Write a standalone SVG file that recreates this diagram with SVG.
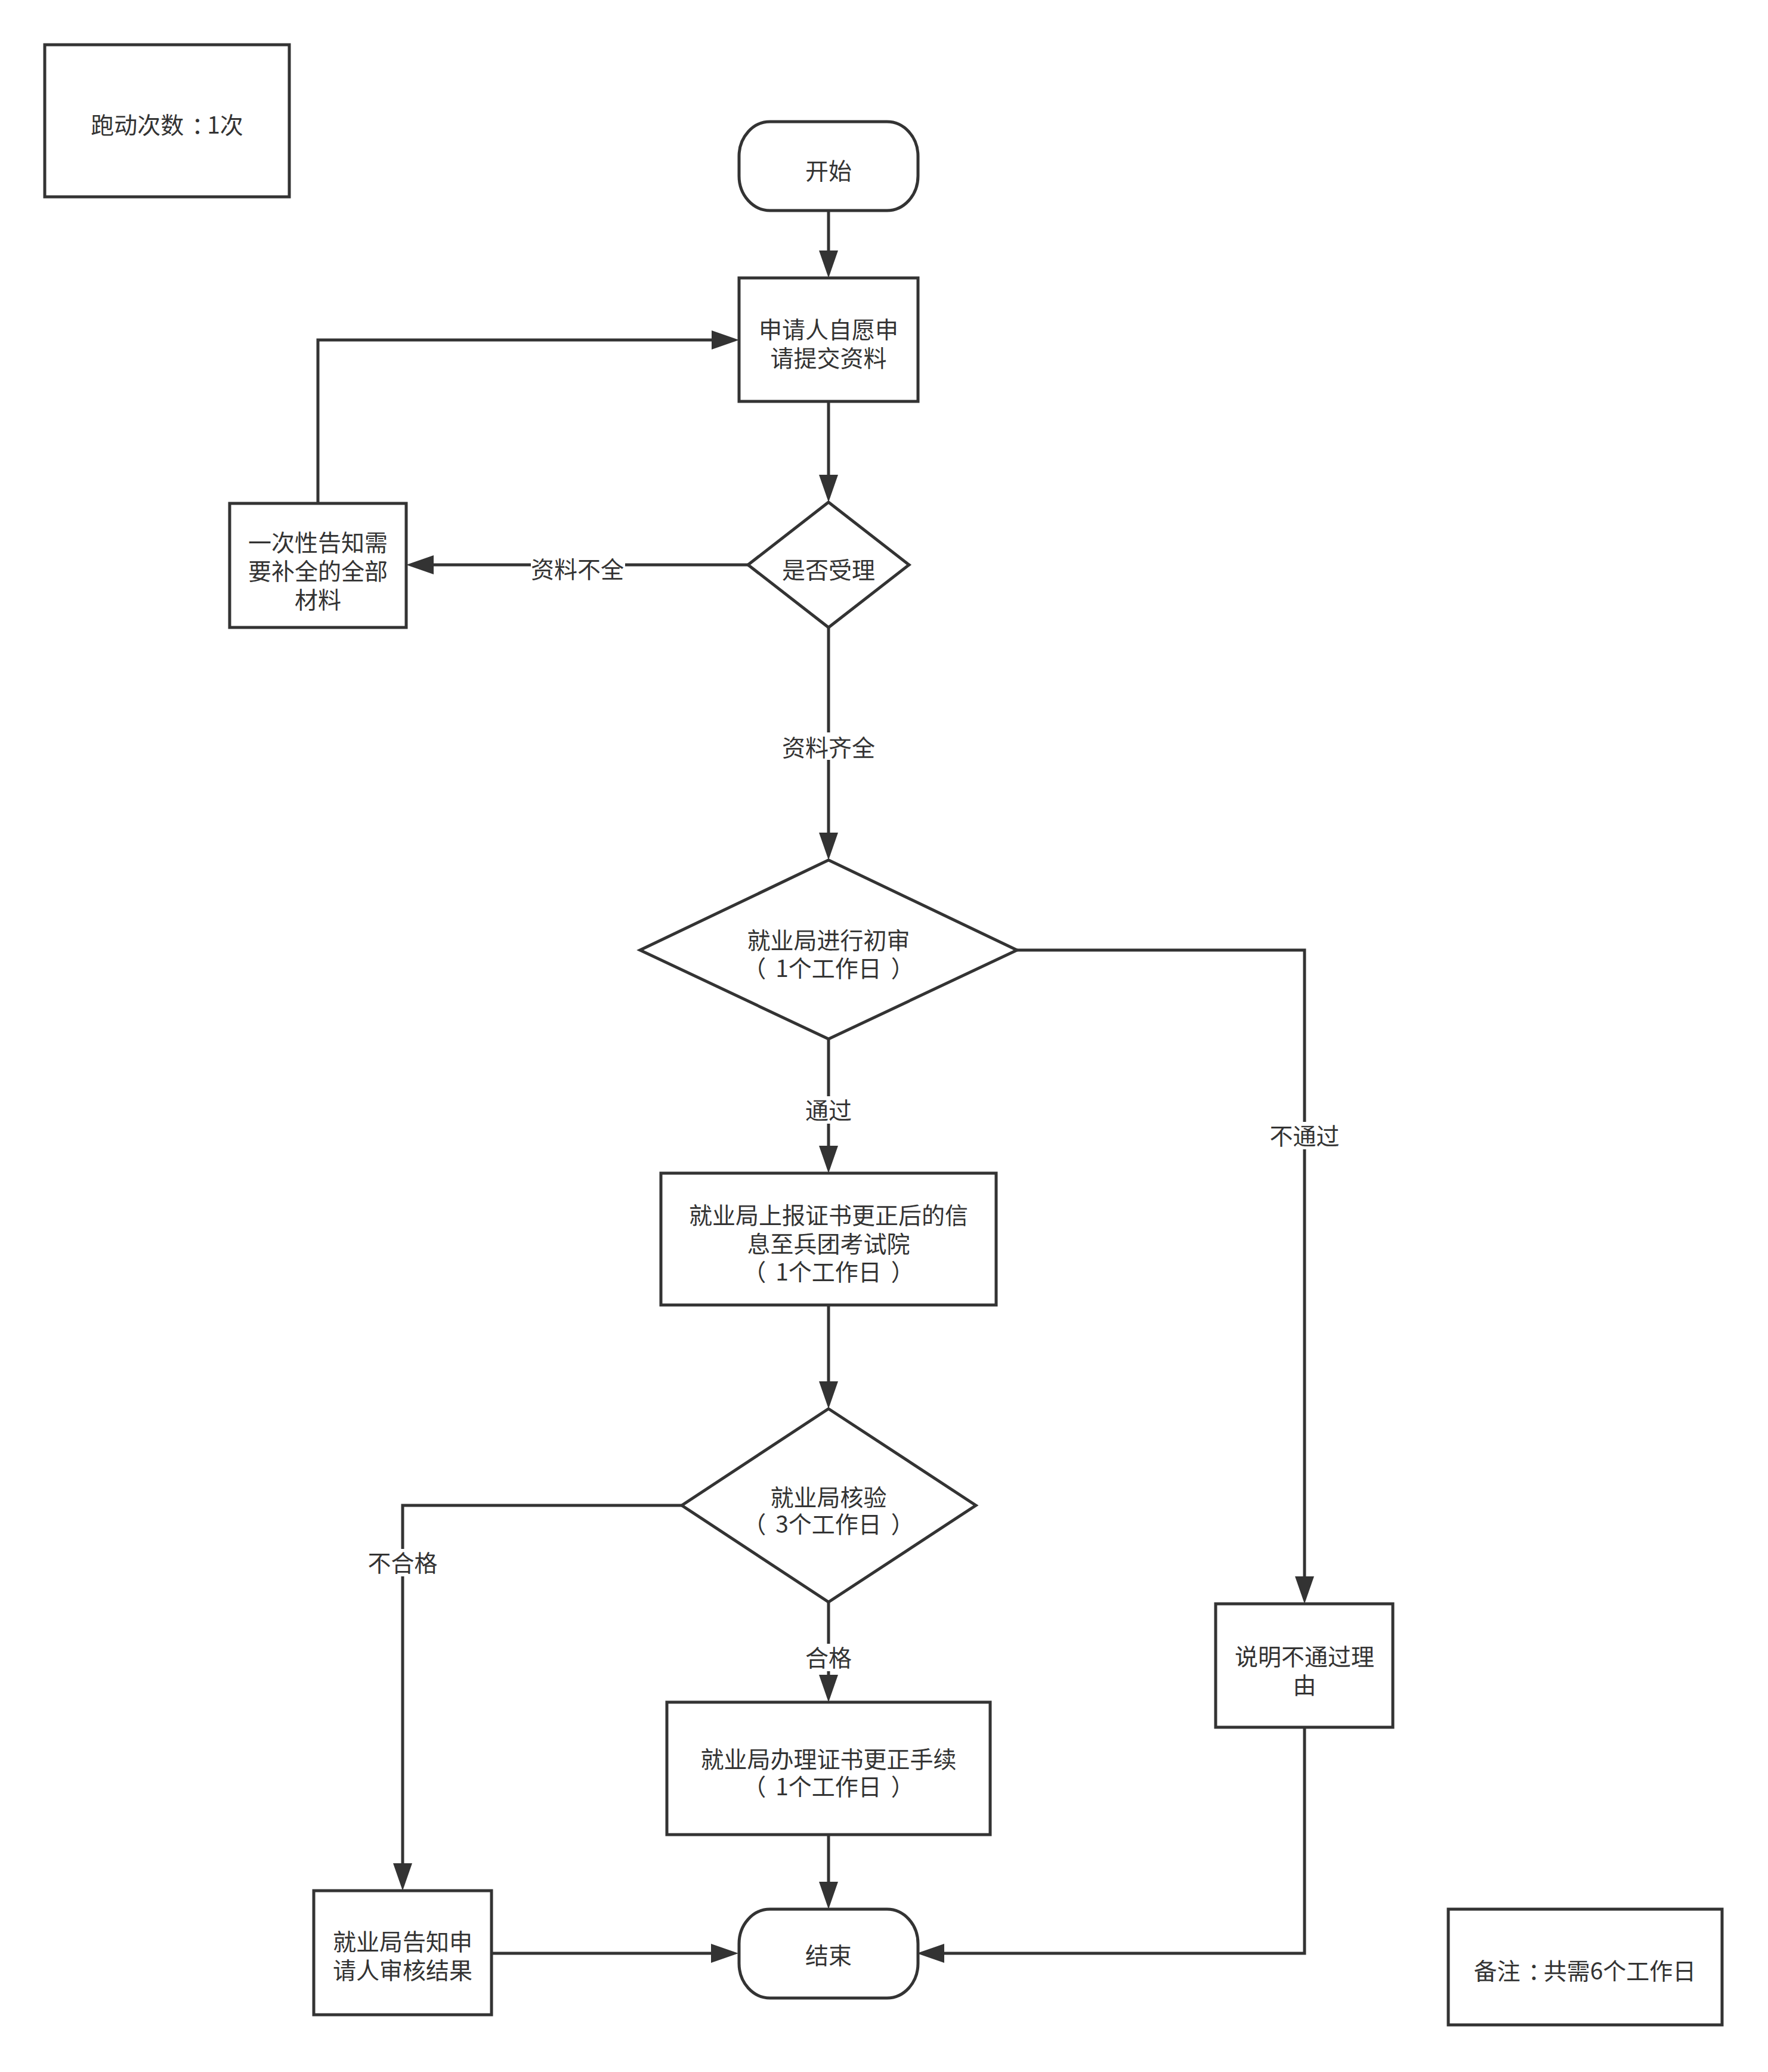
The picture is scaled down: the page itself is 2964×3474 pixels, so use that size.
<svg xmlns="http://www.w3.org/2000/svg" width="2964" height="3474" viewBox="0 0 2964 3474">
<style>
.n{fill:#fff;stroke:#333;stroke-width:5}
.t{font-family:"Noto Sans CJK SC","Noto Sans",sans-serif;font-size:39px;fill:#333;text-anchor:middle}
.c{fill:none;stroke:#333;stroke-width:5}
.bg{fill:#fff}
</style>
<defs>
<marker id="arr" viewBox="0 0 46 32" refX="38" refY="16" markerWidth="46" markerHeight="32" markerUnits="userSpaceOnUse" orient="auto">
<path d="M0,0 L46,16 L0,32 Z" fill="#333"/>
</marker>
</defs>
<rect width="2964" height="3474" fill="#fff"/>
<g id="connectors">
<path class="c" d="M1389,353 L1389,458" marker-end="url(#arr)"/>
<path class="c" d="M1389,673 L1389,834" marker-end="url(#arr)"/>
<path class="c" d="M1389,1052 L1389,1434" marker-end="url(#arr)"/>
<path class="c" d="M1389,1742 L1389,1959" marker-end="url(#arr)"/>
<path class="c" d="M1389,2188 L1389,2354" marker-end="url(#arr)"/>
<path class="c" d="M1389,2686 L1389,2846" marker-end="url(#arr)"/>
<path class="c" d="M1389,3076 L1389,3193" marker-end="url(#arr)"/>
<path class="c" d="M1254,947 L689,947" marker-end="url(#arr)"/>
<path class="c" d="M533,844 L533,570 L1231,570" marker-end="url(#arr)"/>
<path class="c" d="M1705,1593 L2187,1593 L2187,2681" marker-end="url(#arr)"/>
<path class="c" d="M1143,2524 L675,2524 L675,3162" marker-end="url(#arr)"/>
<path class="c" d="M824,3275 L1230,3275" marker-end="url(#arr)"/>
<path class="c" d="M2187,2896 L2187,3275 L1545,3275" marker-end="url(#arr)"/>
<rect class="bg" x="1311" y="1228" width="156" height="46"/>
<text class="t" x="1389" y="1268">资料齐全</text>
<rect class="bg" x="1350" y="1838" width="78" height="46"/>
<text class="t" x="1389" y="1876">通过</text>
<rect class="bg" x="1350" y="2756" width="78" height="46"/>
<text class="t" x="1389" y="2794">合格</text>
<rect class="bg" x="2128" y="1881" width="118" height="46"/>
<text class="t" x="2187" y="1919">不通过</text>
<rect class="bg" x="616" y="2597" width="118" height="46"/>
<text class="t" x="675" y="2635">不合格</text>
<rect class="bg" x="890" y="931" width="158" height="46"/>
<text class="t" x="968" y="969">资料不全</text>
</g>
<g id="note-trips">
<rect class="n" x="75" y="75" width="410" height="255"/>
<text class="t" x="280" y="224">跑动次数<tspan dx="13">：</tspan><tspan dx="-13">1次</tspan></text>
</g>
<g id="start">
<rect class="n" x="1239" y="204" width="300" height="149" rx="52" ry="58"/>
<text class="t" x="1389" y="301">开始</text>
</g>
<g id="apply">
<rect class="n" x="1239" y="466" width="300" height="207"/>
<text class="t" x="1389" y="567">申请人自愿申</text>
<text class="t" x="1389" y="615">请提交资料</text>
</g>
<g id="accept">
<polygon class="n" points="1389,842 1524,947 1389,1052 1254,947"/>
<text class="t" x="1389" y="970">是否受理</text>
</g>
<g id="notify-missing">
<rect class="n" x="385" y="844" width="296" height="208"/>
<text class="t" x="533" y="924">一次性告知需</text>
<text class="t" x="533" y="972">要补全的全部</text>
<text class="t" x="533" y="1020">材料</text>
</g>
<g id="prelim">
<polygon class="n" points="1389,1442 1705,1593 1389,1742 1073,1593"/>
<text class="t" x="1389" y="1591">就业局进行初审</text>
<text class="t" x="1389" y="1638">（<tspan dx="16">1个工作日</tspan><tspan dx="16">）</tspan></text>
</g>
<g id="report">
<rect class="n" x="1108" y="1967" width="562" height="221"/>
<text class="t" x="1389" y="2052">就业局上报证书更正后的信</text>
<text class="t" x="1389" y="2100">息至兵团考试院</text>
<text class="t" x="1389" y="2147">（<tspan dx="16">1个工作日</tspan><tspan dx="16">）</tspan></text>
</g>
<g id="verify">
<polygon class="n" points="1389,2362 1636,2524 1389,2686 1143,2524"/>
<text class="t" x="1389" y="2525">就业局核验</text>
<text class="t" x="1389" y="2570">（<tspan dx="16">3个工作日</tspan><tspan dx="16">）</tspan></text>
</g>
<g id="process">
<rect class="n" x="1118" y="2854" width="542" height="222"/>
<text class="t" x="1389" y="2964">就业局办理证书更正手续</text>
<text class="t" x="1389" y="3010">（<tspan dx="16">1个工作日</tspan><tspan dx="16">）</tspan></text>
</g>
<g id="reason">
<rect class="n" x="2038" y="2689" width="297" height="207"/>
<text class="t" x="2187" y="2792">说明不通过理</text>
<text class="t" x="2187" y="2840">由</text>
</g>
<g id="inform">
<rect class="n" x="526" y="3170" width="298" height="208"/>
<text class="t" x="675" y="3270">就业局告知申</text>
<text class="t" x="675" y="3318">请人审核结果</text>
</g>
<g id="end">
<rect class="n" x="1239" y="3201" width="300" height="149" rx="52" ry="58"/>
<text class="t" x="1389" y="3293">结束</text>
</g>
<g id="note-total">
<rect class="n" x="2428" y="3201" width="459" height="194"/>
<text class="t" x="2657" y="3319">备注<tspan dx="13">：</tspan><tspan dx="-13">共需6个工作日</tspan></text>
</g>
</svg>
